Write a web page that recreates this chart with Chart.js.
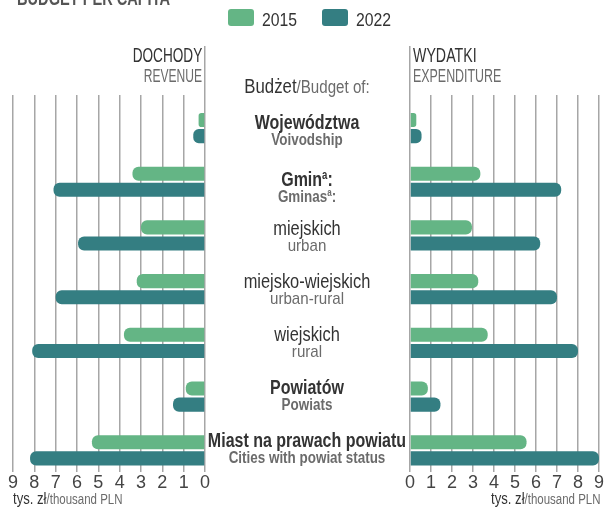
<!DOCTYPE html>
<html>
<head>
<meta charset="utf-8">
<script src="https://cdn.jsdelivr.net/npm/chart.js@4/dist/chart.umd.min.js"></script>
<style>
  body { margin: 0; background: #fff; }
  #wrap { position: relative; width: 604px; height: 511px; overflow: hidden;
          font-family: "Liberation Sans", Arial, sans-serif; color: #333; }
  canvas { position: absolute; top: 0; }
  .t { position: absolute; white-space: nowrap; z-index: 2; }
  .gray { color: #6b6b6b; }
  .box { position: absolute; width: 26px; height: 17px; border-radius: 3px; }
</style>
</head>
<body>
<div id="wrap">
  <canvas id="rev" width="214" height="511" style="left:0"></canvas>
  <canvas id="exp" width="202" height="511" style="left:402px"></canvas>
</div>
<script>
// budget per capita, thousand PLN
const years = ['2015', '2022'];
const categories = ['Województwa', 'Gmin^a:', 'miejskich', 'miejsko-wiejskich', 'wiejskich', 'Powiatów', 'Miast na prawach powiatu'];
const categoriesEn = ['Voivodship', 'Gminas^a:', 'urban', 'urban-rural', 'rural', 'Powiats', 'Cities with powiat status'];
const boldRows = [true, true, false, false, false, true, true];

const revenue2015 = [0.3, 3.4, 3.0, 3.2, 3.8, 0.9, 5.3];
const revenue2022 = [0.55, 7.1, 5.95, 7.0, 8.1, 1.5, 8.2];
const expenditure2015 = [0.3, 3.35, 2.95, 3.25, 3.7, 0.85, 5.55];
const expenditure2022 = [0.55, 7.2, 6.2, 7.0, 8.0, 1.45, 9.0];

const xTicks = [0, 1, 2, 3, 4, 5, 6, 7, 8, 9];

const green = '#64b585';
const teal = '#347e82';
const gridColor = '#a6a6a6';

const wrap = document.getElementById('wrap');

// absolutely placed text, positioned by its baseline; sx squeezes it horizontally
function text(html, x, baseline, size, opts = {}) {
  const el = document.createElement('div');
  el.className = 't' + (opts.gray ? ' gray' : '');
  el.innerHTML = html;
  el.style.fontSize = size + 'px';
  el.style.lineHeight = size + 'px';
  el.style.fontWeight = opts.bold ? 'bold' : 'normal';
  el.style.top = (baseline - 0.8465 * size) + 'px';
  if (opts.color) el.style.color = opts.color;
  let origin = 'left';
  if (opts.align === 'right') {
    el.style.right = (604 - x) + 'px';
    el.style.textAlign = 'right';
    origin = 'right';
  } else if (opts.align === 'center') {
    el.style.left = (x - 200) + 'px';
    el.style.width = '400px';
    el.style.textAlign = 'center';
    origin = 'center';
  } else {
    el.style.left = x + 'px';
  }
  if (opts.sx) {
    el.style.transform = 'scaleX(' + opts.sx + ')';
    el.style.transformOrigin = origin;
  }
  wrap.appendChild(el);
  return el;
}

// vertical line above the panel, continuing the zero grid line
const headerLine = {
  id: 'headerLine',
  afterDraw(chart) {
    const { ctx, chartArea, scales } = chart;
    const w = 1.5;
    const px = Math.round(scales.x.getPixelForValue(0) - w / 2) + w / 2;
    ctx.save();
    ctx.strokeStyle = gridColor;
    ctx.lineWidth = w;
    ctx.beginPath();
    ctx.moveTo(px, 46);
    ctx.lineTo(px, chartArea.top);
    ctx.stroke();
    ctx.restore();
  }
};

function panel(id, d15, d22, reverse, padding) {
  return new Chart(document.getElementById(id), {
    type: 'bar',
    data: {
      datasets: [
        { label: years[0], data: d15.map((v, i) => ({ x: v, y: i })), backgroundColor: green },
        { label: years[1], data: d22.map((v, i) => ({ x: v, y: i })), backgroundColor: teal }
      ]
    },
    options: {
      indexAxis: 'y',
      responsive: false,
      animation: false,
      events: [],
      layout: { padding: padding },
      datasets: {
        bar: { categoryPercentage: 0.6, barPercentage: 0.875, borderRadius: 6, borderSkipped: 'start' }
      },
      scales: {
        y: {
          type: 'linear', reverse: true, offset: false, min: -0.615, max: 6.404, display: false,
          afterBuildTicks: s => { s.ticks = categories.map((c, i) => ({ value: i })); }
        },
        x: {
          min: 0, max: 9, reverse: reverse,
          afterBuildTicks: s => { s.ticks = xTicks.map(v => ({ value: v })); },
          afterFit: s => { s.height = 39; },
          ticks: { color: '#444', padding: 0, maxRotation: 0, font: { family: '"Liberation Sans", Arial, sans-serif', size: 18 } },
          grid: { color: gridColor, lineWidth: 1.5, drawTicks: false },
          border: { display: false }
        }
      },
      plugins: { legend: { display: false }, tooltip: { enabled: false } }
    },
    plugins: [headerLine]
  });
}

const revChart = panel('rev', revenue2015, revenue2022, true, { top: 95, left: 13, right: 9, bottom: 0 });
panel('exp', expenditure2015, expenditure2022, false, { top: 95, left: 8, right: 3, bottom: 0 });

// title (runs off the top edge)
text('BUDGET PER CAPITA', 17, 5, 20, { bold: true, color: '#555', sx: 0.73 });

// legend
[[228, green], [322, teal]].forEach(([x, c], i) => {
  const b = document.createElement('div');
  b.className = 'box';
  b.style.left = x + 'px';
  b.style.top = '9px';
  b.style.background = c;
  wrap.appendChild(b);
  text(years[i], x + 34, 26, 19, { sx: 0.83 });
});

// panel headers
text('DOCHODY', 202, 62, 20, { align: 'right', sx: 0.68 });
text('REVENUE', 202, 82, 18, { align: 'right', gray: true, sx: 0.67 });
text('WYDATKI', 413, 62, 20, { sx: 0.71 });
text('EXPENDITURE', 413, 82, 18, { gray: true, sx: 0.69 });
text('Budżet<span class="gray" style="font-size:18px">/Budget of:</span>', 307, 93, 20, { align: 'center', sx: 0.84 });

// category labels centred between the panels, following the bar rows
const sup = s => s.replace(/\^(\w)/, '<sup style="font-size:0.6em;vertical-align:0.55em">$1</sup>');
categories.forEach((name, i) => {
  const yc = revChart.scales.y.getPixelForValue(i) + 0.5 - 0.6 * i;
  const bold = boldRows[i];
  text(sup(name), 307, yc, 20, { align: 'center', bold, sx: bold ? 0.8 : 0.82 });
  text(sup(categoriesEn[i]), 307, yc + 16.5, 17, { align: 'center', bold, gray: true, sx: bold ? 0.79 : 0.89 });
});

// units under the axes
const unit = 'tys. zł<span class="gray" style="font-size:14px">/thousand PLN</span>';
text(unit, 13, 505, 16, { sx: 0.82 });
text(unit, 601, 505, 16, { align: 'right', sx: 0.82 });
</script>
</body>
</html>
